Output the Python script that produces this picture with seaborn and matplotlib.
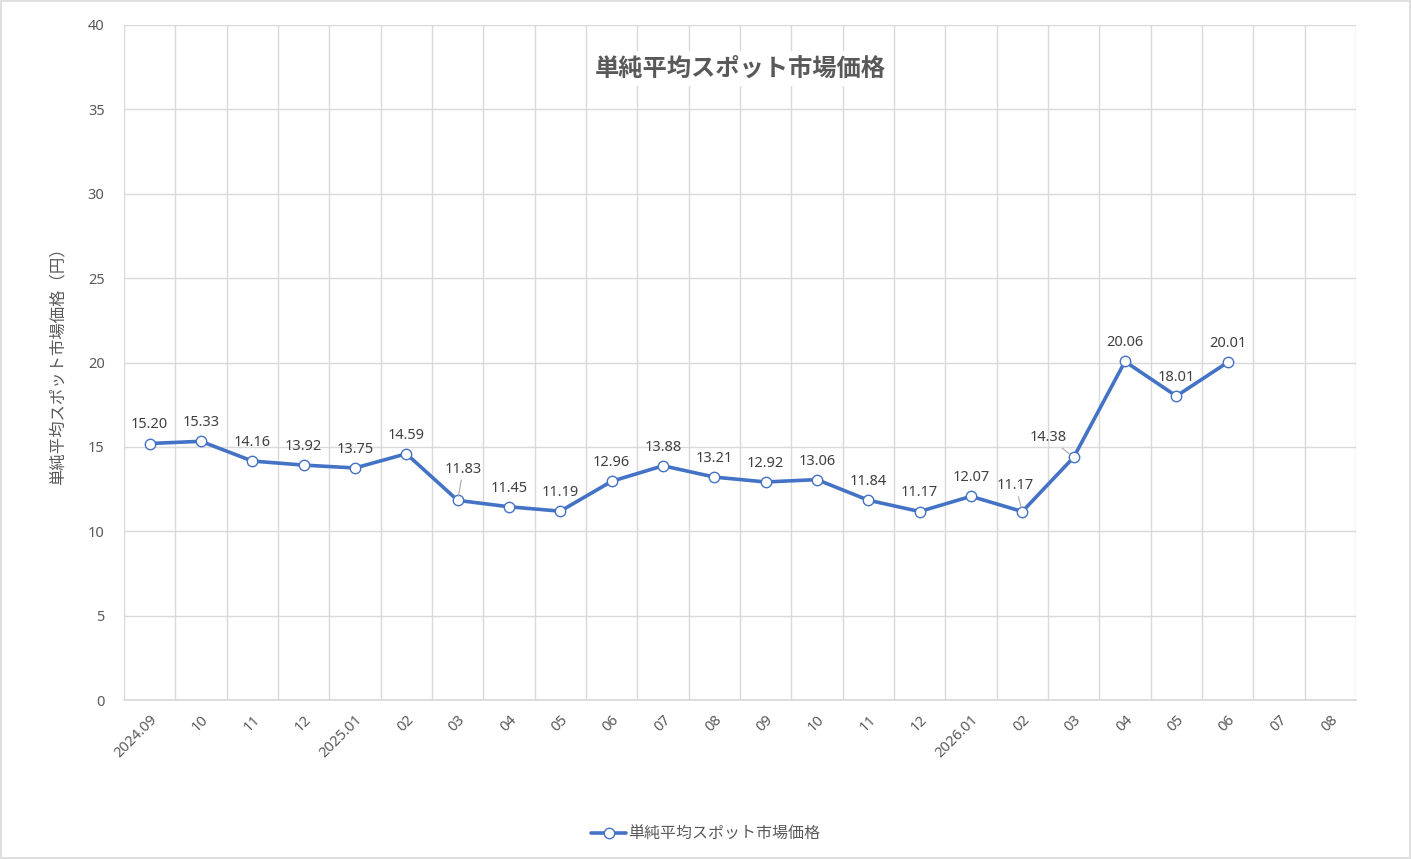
import matplotlib
matplotlib.use('Agg')
import matplotlib.pyplot as plt
import seaborn as sns
import pandas as pd

months = ['2024.09', '10', '11', '12', '2025.01', '02', '03', '04', '05', '06', '07', '08',
          '09', '10', '11', '12', '2026.01', '02', '03', '04', '05', '06', '07', '08']
prices = [15.20, 15.33, 14.16, 13.92, 13.75, 14.59, 11.83, 11.45, 11.19, 12.96, 13.88, 13.21,
          12.92, 13.06, 11.84, 11.17, 12.07, 11.17, 14.38, 20.06, 18.01, 20.01]
series_name = '単純平均スポット市場価格'

sns.set_theme(style='white')
plt.rcParams['font.family'] = ['Noto Sans CJK JP', 'DejaVu Sans']
num_font = ['Noto Sans', 'Noto Sans CJK JP']

df = pd.DataFrame({'x': range(len(prices)), 'price': prices})

fig = plt.figure(figsize=(14.11, 8.59), dpi=100)
ax = fig.add_axes([124 / 1411, 1 - 700 / 859, 1232 / 1411, 675 / 859])

blue = '#4472C4'
grid = '#D9D9D9'
txt = '#595959'

sns.lineplot(data=df, x='x', y='price', ax=ax, color=blue, linewidth=2.6,
             marker='o', markersize=7.5, markerfacecolor='white',
             markeredgecolor=blue, markeredgewidth=1.0, label=series_name, zorder=3)

ax.set_xlim(-0.5, len(months) - 0.5)
ax.set_ylim(0, 40)
ax.set_yticks(range(0, 41, 5))
ax.set_xticks(range(len(months)))
ax.set_xticks([i - 0.5 for i in range(len(months) + 1)], minor=True)
ax.set_xticklabels(months, rotation=45, ha='right', va='top', rotation_mode='anchor')
ax.tick_params(axis='x', which='major', length=0, pad=9, labelsize=10.5, colors=txt)
ax.tick_params(axis='x', which='minor', length=5, color=grid, width=1)
ax.tick_params(axis='y', length=0, pad=14, labelsize=10.5, colors=txt)
for lab in ax.get_xticklabels() + ax.get_yticklabels():
    lab.set_fontfamily(num_font)
ax.grid(True, axis='y', color=grid, linewidth=1)
ax.grid(True, axis='x', which='minor', color=grid, linewidth=1)
ax.grid(False, axis='x', which='major')
for s in ['top', 'right', 'left']:
    ax.spines[s].set_visible(False)
ax.spines['bottom'].set_color(grid)
ax.set_axisbelow(True)

ax.set_xlabel('')
ax.set_ylabel('単純平均スポット市場価格（円）', color=txt, fontsize=11.8, labelpad=15)

# data labels (offset in points, default straight above)
offsets = {6: (4, 17), 17: (-5, 13), 18: (-18, 9)}
leaders = {6, 17, 18}
for i, v in enumerate(prices):
    dx, dy = offsets.get(i, (0, 8))
    ax.annotate(f'{v:.2f}', (i, v), xytext=(dx, dy), textcoords='offset points',
                ha='center', va='bottom', fontsize=10.5, color='#404040', family=num_font,
                arrowprops=dict(arrowstyle='-', color='#A6A6A6', lw=0.8,
                                shrinkA=0, shrinkB=3) if i in leaders else None)

ax.text(0.5, 0.935, series_name, transform=ax.transAxes, ha='center', va='center',
        fontsize=17.5, fontweight='bold', color=txt,
        bbox=dict(facecolor='white', edgecolor='none', pad=4))

handles, labels = ax.get_legend_handles_labels()
ax.get_legend().remove()
leg = fig.legend(handles, labels, loc='center', bbox_to_anchor=(0.5, 1 - 834 / 859),
                 frameon=False, fontsize=11.5, handlelength=2.2, handletextpad=0.1)
for t in leg.get_texts():
    t.set_color(txt)

fig.patches.append(plt.Rectangle((0.0005, 0.0008), 0.999, 0.9985, transform=fig.transFigure,
                                 fill=False, edgecolor='#D9D9D9', linewidth=1.2))

fig.savefig('out.png', dpi=100)
